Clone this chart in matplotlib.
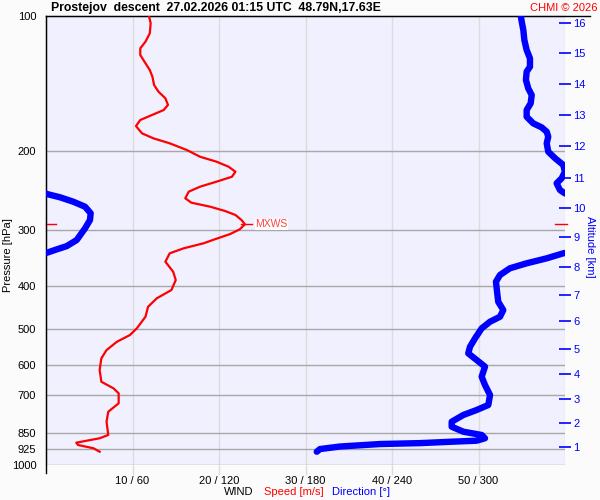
import numpy as np
import matplotlib
matplotlib.use('Agg')
import matplotlib.pyplot as plt
import matplotlib.transforms as mtransforms
from matplotlib.ticker import FixedLocator, NullLocator

plt.rcParams['font.family'] = ['Liberation Sans', 'DejaVu Sans']
plt.rcParams['font.size'] = 7.5

# wind speed [m/s] vs pressure [hPa]
speed_p = [100.0, 104.0, 109.5, 114.3, 118.3, 122.4, 127.7, 132.2, 136.8, 142.8,
           147.7, 152.8, 158.1, 162.3, 167.3, 170.8, 176.2, 182.9, 187.6, 192.5,
           199.3, 206.2, 211.5, 217.0, 222.7, 228.5, 234.4, 240.5, 246.7, 255.2,
           261.0, 266.5, 272.4, 278.0, 285.3, 291.6, 299.2, 306.5, 315.0, 321.5,
           329.9, 338.4, 353.3, 371.9, 388.1, 408.5, 426.3, 445.1, 468.5, 497.2,
           514.6, 532.6, 555.8, 579.9, 615.6, 653.8, 676.3, 693.8, 730.3, 762.5,
           802.6, 859.1, 873.7, 893.7, 904.3, 919.8, 936.1]
speed = [11.9, 12.1, 12.0, 11.5, 10.9, 10.9, 11.5, 12.0, 12.3, 12.5,
         13.0, 13.8, 14.1, 13.6, 12.0, 10.9, 10.4, 11.1, 12.4, 14.3,
         16.3, 17.8, 19.7, 21.1, 21.9, 21.5, 19.7, 17.8, 16.5, 16.1,
         16.8, 19.0, 20.7, 21.9, 22.6, 23.0, 22.4, 21.3, 19.5, 18.2,
         15.9, 14.3, 13.8, 14.7, 15.0, 14.5, 12.8, 11.8, 11.5, 10.5,
         9.7, 8.2, 7.0, 6.4, 6.2, 6.4, 7.8, 8.4, 8.4, 7.2,
         7.0, 7.2, 6.2, 3.5, 3.7, 5.5, 6.2]

# wind direction [deg] vs pressure [hPa]
dir_p = [100.0, 103.2, 107.7, 113.3, 119.3, 124.5, 130.0, 133.3, 139.1, 145.2,
         150.3, 156.8, 162.3, 168.0, 173.8, 177.4, 181.4, 186.1, 192.5, 201.0,
         207.8, 215.1, 222.7, 230.3, 236.3, 244.6, 249.6, 253.9, 259.7, 266.5,
         275.6, 285.3, 297.7, 316.1, 326.1, 331.7, 337.5, 338.4, 347.2, 356.2,
         365.4, 378.2, 391.5, 415.5, 433.9, 452.7, 468.5, 480.6, 497.2, 523.4,
         546.5, 565.3, 584.8, 605.3, 637.2, 664.9, 699.8, 736.7, 755.8, 775.3,
         802.6, 823.4, 844.8, 859.1, 873.7, 884.6, 889.0, 895.7, 899.9, 911.5,
         923.3, 936.1]
direction = [329.3, 330.0, 331.1, 331.8, 333.4, 335.7, 335.7, 333.4, 332.9, 334.5,
             336.9, 336.2, 333.4, 333.4, 338.0, 343.8, 347.3, 348.4, 347.3, 348.4,
             353.1, 358.8, 359.9, 357.7, 354.2, 356.5, 0.5, 9.7, 18.9, 27.1,
             31.0, 30.5, 27.1, 21.3, 14.4, 7.4, 0.5, 358.8, 347.3, 333.4,
             321.8, 314.9, 312.1, 313.0, 313.7, 317.2, 314.9, 308.0, 302.2, 297.6,
             294.1, 292.9, 298.7, 304.5, 302.2, 304.5, 308.0, 306.8, 298.7, 289.5,
             281.4, 281.4, 289.5, 302.2, 304.5, 298.7, 282.3, 259.4, 231.7, 203.9,
             190.1, 187.8]

# altitude axis: km and the pressure level where it sits
alt_km = list(range(1, 17))
alt_p = [915.3, 806.6, 714.3, 629.4, 552.9, 478.9, 419.8, 363.6,
         311.8, 268.7, 229.6, 194.9, 166.5, 142.0, 121.3, 103.7]

p_ticks = [100, 200, 300, 400, 500, 600, 700, 850, 925, 1000]
speed_ticks = [10, 20, 30, 40, 50]
dir_ticks = [60, 120, 180, 240, 300]

title = 'Prostejov  descent  27.02.2026 01:15 UTC  48.79N,17.63E'


def split_at_north(d, p):
    '''Break the direction line where it passes 360/0, so it leaves one edge
    and comes back in at the other one.'''
    xs, ys = [d[0]], [p[0]]
    for i in range(1, len(d)):
        step = d[i] - d[i-1]
        if abs(step) > 180:
            if step < 0:
                a, b = 360.0, 0.0
                frac = (360 - d[i-1]) / (d[i] + 360 - d[i-1])
            else:
                a, b = 0.0, 360.0
                frac = d[i-1] / (d[i-1] + 360 - d[i])
            pc = p[i-1] + frac * (p[i] - p[i-1])
            xs += [a, np.nan, b]
            ys += [pc, np.nan, pc]
        xs.append(d[i])
        ys.append(p[i])
    return xs, ys


fig = plt.figure(figsize=(6, 5), dpi=100, facecolor='#fbfbfb')
ax = fig.add_axes([46/600, 1 - 464.6/500, 519/600, 449/500])
ax.set_facecolor('#f0f0ff')

ax.set_yscale('log')
ax.set_ylim(1000, 100)
ax.set_xlim(0, 60)
ax.yaxis.set_major_locator(FixedLocator(p_ticks))
ax.yaxis.set_minor_locator(NullLocator())
ax.set_yticklabels([str(p) for p in p_ticks])
ax.set_xticks(speed_ticks, ['%d / %d' % (s, d) for s, d in zip(speed_ticks, dir_ticks)])
ax.tick_params(axis='y', length=0, pad=7, labelsize=8)
ax.tick_params(axis='x', length=7, color='#dcdcdc', width=1, pad=1.5, labelsize=8)

for p in p_ticks[1:]:
    ax.axhline(p, color='#a8a8a8', lw=1, zorder=1)
for s in speed_ticks + [60]:
    ax.axvline(s, color='#dcdcdc', lw=1, zorder=0.9)

for side in ['right', 'bottom']:
    ax.spines[side].set_visible(False)
ax.spines['top'].set_color('black')
ax.spines['left'].set_color('black')
# top line runs a bit past the plot, left one a bit below
ax.plot([0, 1.048], [1, 1], transform=ax.transAxes, color='black', lw=1, clip_on=False)
ax.plot([0, 0], [-0.018, 1], transform=ax.transAxes, color='black', lw=1, clip_on=False)

# speed
ax.plot(speed, speed_p, color='red', lw=1.6, zorder=3)

# max wind marker
imax = int(np.argmax(speed))
vmax, pmax = speed[imax], speed_p[imax]
ax.plot([vmax - 0.5, vmax + 0.8], [pmax, pmax], color='red', lw=1, zorder=3)
ax.text(vmax + 1.2, pmax, 'MXWS', color='#ff4040', fontsize=7.5, va='center', ha='left',
        bbox=dict(facecolor='white', edgecolor='none', pad=0.5), zorder=4)
trans = mtransforms.blended_transform_factory(ax.transAxes, ax.transData)
ax.plot([0, 0.02], [pmax, pmax], transform=trans, color='red', lw=1, clip_on=False)
ax.plot([0.98, 1.003], [pmax, pmax], transform=trans, color='red', lw=1, clip_on=False)

# direction on its own 0-360 scale
axd = ax.twiny()
axd.set_xlim(0, 360)
axd.set_xticks([])
axd.patch.set_visible(False)
for sp in axd.spines.values():
    sp.set_visible(False)
dx, dy = split_at_north(direction, dir_p)
axd.plot(dx, dy, color='blue', lw=4.6, solid_capstyle='round', zorder=3)

# altitude ticks on the right
axa = ax.twinx()
axa.set_yscale('log')
axa.set_ylim(1000, 100)
axa.yaxis.set_major_locator(FixedLocator(alt_p))
axa.yaxis.set_minor_locator(NullLocator())
axa.set_yticklabels([str(k) for k in alt_km])
axa.tick_params(axis='y', colors='blue', direction='inout', length=8, width=1.2, pad=2, labelsize=8)
axa.patch.set_visible(False)
for sp in axa.spines.values():
    sp.set_visible(False)
axa.set_ylabel('Altitude [km]', color='blue', rotation=270, labelpad=12, fontsize=8)
axa.yaxis.set_label_coords(1.058, 0.484)

fig.text(51/600, 1 - 8/500, title, fontweight='bold', fontsize=8.8, ha='left', va='center')
fig.text(597/600, 1 - 8/500, 'CHMI © 2026', color='red', fontsize=8, ha='right', va='center')
fig.text(8/600, 1 - 255/500, 'Pressure [hPa]', rotation=90, fontsize=8, ha='center', va='center')
fig.text(224/600, 1 - 492/500, 'WIND', fontsize=8, ha='left', va='center')
fig.text(264/600, 1 - 492/500, 'Speed [m/s]', color='red', fontsize=8, ha='left', va='center')
fig.text(332/600, 1 - 492/500, 'Direction [°]', color='blue', fontsize=8, ha='left', va='center')

fig.savefig('out.png', dpi=100, facecolor=fig.get_facecolor())
